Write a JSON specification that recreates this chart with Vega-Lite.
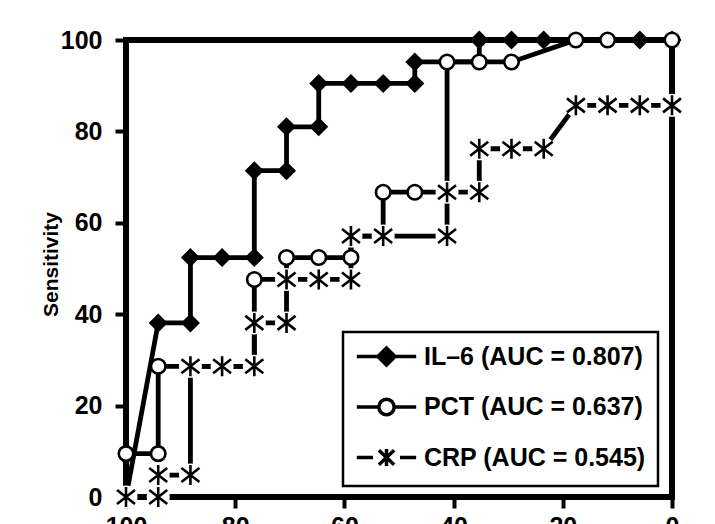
{
  "$schema": "https://vega.github.io/schema/vega-lite/v6.json",
  "autosize": {"type": "none"},
  "padding": {"left": 126, "top": 40, "right": 43, "bottom": 27},
  "width": 546,
  "height": 457,
  "background": "white",
  "config": {
    "view": {"stroke": "black", "strokeWidth": 6},
    "font": "Liberation Sans",
    "axis": {
      "domain": false,
      "grid": false,
      "ticks": true,
      "tickColor": "black",
      "tickWidth": 4,
      "tickSize": 11,
      "labelFont": "Liberation Sans",
      "labelFontWeight": "bold",
      "labelFontSize": 25,
      "labelColor": "black"
    }
  },
  "data": {
    "values": [
      {"series": "IL–6 (AUC = 0.807)", "i": 1, "specificity": 100, "sensitivity": 0},
      {"series": "IL–6 (AUC = 0.807)", "i": 2, "specificity": 94.1, "sensitivity": 38.1},
      {"series": "IL–6 (AUC = 0.807)", "i": 3, "specificity": 88.2, "sensitivity": 38.1},
      {"series": "IL–6 (AUC = 0.807)", "i": 4, "specificity": 88.2, "sensitivity": 52.4},
      {"series": "IL–6 (AUC = 0.807)", "i": 5, "specificity": 82.4, "sensitivity": 52.4},
      {"series": "IL–6 (AUC = 0.807)", "i": 6, "specificity": 76.5, "sensitivity": 52.4},
      {"series": "IL–6 (AUC = 0.807)", "i": 7, "specificity": 76.5, "sensitivity": 71.4},
      {"series": "IL–6 (AUC = 0.807)", "i": 8, "specificity": 70.6, "sensitivity": 71.4},
      {"series": "IL–6 (AUC = 0.807)", "i": 9, "specificity": 70.6, "sensitivity": 81.0},
      {"series": "IL–6 (AUC = 0.807)", "i": 10, "specificity": 64.7, "sensitivity": 81.0},
      {"series": "IL–6 (AUC = 0.807)", "i": 11, "specificity": 64.7, "sensitivity": 90.5},
      {"series": "IL–6 (AUC = 0.807)", "i": 12, "specificity": 58.8, "sensitivity": 90.5},
      {"series": "IL–6 (AUC = 0.807)", "i": 13, "specificity": 52.9, "sensitivity": 90.5},
      {"series": "IL–6 (AUC = 0.807)", "i": 14, "specificity": 47.1, "sensitivity": 90.5},
      {"series": "IL–6 (AUC = 0.807)", "i": 15, "specificity": 47.1, "sensitivity": 95.2},
      {"series": "IL–6 (AUC = 0.807)", "i": 16, "specificity": 35.3, "sensitivity": 95.2, "corner": true},
      {"series": "IL–6 (AUC = 0.807)", "i": 17, "specificity": 35.3, "sensitivity": 100},
      {"series": "IL–6 (AUC = 0.807)", "i": 18, "specificity": 29.4, "sensitivity": 100},
      {"series": "IL–6 (AUC = 0.807)", "i": 19, "specificity": 23.5, "sensitivity": 100},
      {"series": "IL–6 (AUC = 0.807)", "i": 20, "specificity": 5.9, "sensitivity": 100},
      {"series": "IL–6 (AUC = 0.807)", "i": 21, "specificity": 0, "sensitivity": 100},
      {"series": "PCT (AUC = 0.637)", "i": 1, "specificity": 100, "sensitivity": 9.5},
      {"series": "PCT (AUC = 0.637)", "i": 2, "specificity": 94.1, "sensitivity": 9.5},
      {"series": "PCT (AUC = 0.637)", "i": 3, "specificity": 94.1, "sensitivity": 28.6},
      {"series": "PCT (AUC = 0.637)", "i": 4, "specificity": 76.5, "sensitivity": 28.6},
      {"series": "PCT (AUC = 0.637)", "i": 5, "specificity": 76.5, "sensitivity": 47.6},
      {"series": "PCT (AUC = 0.637)", "i": 6, "specificity": 70.6, "sensitivity": 47.6},
      {"series": "PCT (AUC = 0.637)", "i": 7, "specificity": 70.6, "sensitivity": 52.4},
      {"series": "PCT (AUC = 0.637)", "i": 8, "specificity": 64.7, "sensitivity": 52.4},
      {"series": "PCT (AUC = 0.637)", "i": 9, "specificity": 58.8, "sensitivity": 52.4},
      {"series": "PCT (AUC = 0.637)", "i": 10, "specificity": 58.8, "sensitivity": 57.1},
      {"series": "PCT (AUC = 0.637)", "i": 11, "specificity": 52.9, "sensitivity": 57.1},
      {"series": "PCT (AUC = 0.637)", "i": 12, "specificity": 52.9, "sensitivity": 66.7},
      {"series": "PCT (AUC = 0.637)", "i": 13, "specificity": 47.1, "sensitivity": 66.7},
      {"series": "PCT (AUC = 0.637)", "i": 14, "specificity": 41.2, "sensitivity": 66.7},
      {"series": "PCT (AUC = 0.637)", "i": 15, "specificity": 41.2, "sensitivity": 95.2},
      {"series": "PCT (AUC = 0.637)", "i": 16, "specificity": 35.3, "sensitivity": 95.2},
      {"series": "PCT (AUC = 0.637)", "i": 17, "specificity": 29.4, "sensitivity": 95.2},
      {"series": "PCT (AUC = 0.637)", "i": 18, "specificity": 17.6, "sensitivity": 100},
      {"series": "PCT (AUC = 0.637)", "i": 19, "specificity": 11.8, "sensitivity": 100},
      {"series": "PCT (AUC = 0.637)", "i": 20, "specificity": 0, "sensitivity": 100},
      {"series": "CRP (AUC = 0.545)", "i": 1, "specificity": 100, "sensitivity": 0},
      {"series": "CRP (AUC = 0.545)", "i": 2, "specificity": 94.1, "sensitivity": 0},
      {"series": "CRP (AUC = 0.545)", "i": 3, "specificity": 94.1, "sensitivity": 4.8},
      {"series": "CRP (AUC = 0.545)", "i": 4, "specificity": 88.2, "sensitivity": 4.8},
      {"series": "CRP (AUC = 0.545)", "i": 5, "specificity": 88.2, "sensitivity": 28.6},
      {"series": "CRP (AUC = 0.545)", "i": 6, "specificity": 82.4, "sensitivity": 28.6},
      {"series": "CRP (AUC = 0.545)", "i": 7, "specificity": 76.5, "sensitivity": 28.6},
      {"series": "CRP (AUC = 0.545)", "i": 8, "specificity": 76.5, "sensitivity": 38.1},
      {"series": "CRP (AUC = 0.545)", "i": 9, "specificity": 70.6, "sensitivity": 38.1},
      {"series": "CRP (AUC = 0.545)", "i": 10, "specificity": 70.6, "sensitivity": 47.6},
      {"series": "CRP (AUC = 0.545)", "i": 11, "specificity": 64.7, "sensitivity": 47.6},
      {"series": "CRP (AUC = 0.545)", "i": 12, "specificity": 58.8, "sensitivity": 47.6},
      {"series": "CRP (AUC = 0.545)", "i": 13, "specificity": 58.8, "sensitivity": 57.1},
      {"series": "CRP (AUC = 0.545)", "i": 14, "specificity": 52.9, "sensitivity": 57.1},
      {"series": "CRP (AUC = 0.545)", "i": 15, "specificity": 41.2, "sensitivity": 57.1},
      {"series": "CRP (AUC = 0.545)", "i": 16, "specificity": 41.2, "sensitivity": 66.7},
      {"series": "CRP (AUC = 0.545)", "i": 17, "specificity": 35.3, "sensitivity": 66.7},
      {"series": "CRP (AUC = 0.545)", "i": 18, "specificity": 35.3, "sensitivity": 76.2},
      {"series": "CRP (AUC = 0.545)", "i": 19, "specificity": 29.4, "sensitivity": 76.2},
      {"series": "CRP (AUC = 0.545)", "i": 20, "specificity": 23.5, "sensitivity": 76.2},
      {"series": "CRP (AUC = 0.545)", "i": 21, "specificity": 17.6, "sensitivity": 85.7},
      {"series": "CRP (AUC = 0.545)", "i": 22, "specificity": 11.8, "sensitivity": 85.7},
      {"series": "CRP (AUC = 0.545)", "i": 23, "specificity": 5.9, "sensitivity": 85.7},
      {"series": "CRP (AUC = 0.545)", "i": 24, "specificity": 0, "sensitivity": 85.7}
    ]
  },
  "encoding": {
    "x": {
      "field": "specificity",
      "type": "quantitative",
      "scale": {"domain": [0, 100], "reverse": true, "nice": false, "zero": false},
      "axis": {"title": null, "values": [0, 20, 40, 60, 80, 100], "labelPadding": 6, "labelFlush": false, "labelOverlap": false}
    },
    "y": {
      "field": "sensitivity",
      "type": "quantitative",
      "scale": {"domain": [0, 100], "nice": false},
      "axis": {
        "title": "Sensitivity",
        "values": [0, 20, 40, 60, 80, 100],
        "labelPadding": 13,
        "labelFlush": false,
        "labelOverlap": false,
        "titleFont": "Liberation Sans",
        "titleFontSize": 21,
        "titleFontWeight": "bold",
        "titleColor": "black",
        "titleX": -69,
        "titleY": 224,
        "titleBaseline": "alphabetic",
        "titleAlign": "center",
        "titleAngle": -90
      }
    }
  },
  "layer": [
    {
      "mark": {"type": "line", "strokeWidth": 4.8, "strokeJoin": "miter"},
      "encoding": {
        "color": {
          "field": "series",
          "type": "nominal",
          "scale": {"domain": ["IL–6 (AUC = 0.807)", "PCT (AUC = 0.637)", "CRP (AUC = 0.545)"], "range": ["black", "black", "black"]},
          "legend": {
            "title": null,
            "orient": "none",
            "legendX": 217,
            "legendY": 292,
            "direction": "vertical",
            "strokeColor": "black",
            "fillColor": "white",
            "padding": 12,
            "rowPadding": 18.5,
            "symbolSize": 324,
            "symbolStrokeWidth": 3.5,
            "symbolOffset": 19,
            "labelOffset": 25,
            "labelFont": "Liberation Sans",
            "labelFontSize": 25,
            "labelFontWeight": "bold",
            "labelColor": "black",
            "labelLimit": 400,
            "encode": {
              "legend": {"update": {"strokeWidth": {"value": 2.5}}},
              "symbols": {
                "update": {
                  "shape": {"signal": "datum.index === 0 ? 'M-3.3,0L3.3,0M0,-0.95L0.95,0L0,0.95L-0.95,0Z' : datum.index === 1 ? 'M-3.3,0L-0.85,0M0.85,0L3.3,0M-0.85,0A0.85,0.85,0,1,1,0.85,0A0.85,0.85,0,1,1,-0.85,0Z' : 'M-3.3,0L-1.5,0M1.5,0L3.3,0M0,-0.95L0,0.95M-0.85,-0.8L0.85,0.8M-0.85,0.8L0.85,-0.8'"},
                  "fill": {"signal": "datum.index === 0 ? 'black' : 'white'"},
                  "stroke": {"value": "black"},
                  "strokeWidth": {"value": 3.5},
                  "size": {"value": 324},
                  "opacity": {"value": 1}
                }
              }
            }
          }
        },
        "order": {"field": "i", "type": "quantitative"}
      }
    },
    {
      "transform": [{"filter": "datum.series === 'IL–6 (AUC = 0.807)' && !datum.corner"}],
      "mark": {"type": "point", "shape": "diamond", "size": 361, "filled": true, "fill": "black", "strokeWidth": 0, "opacity": 1}
    },
    {
      "transform": [{"filter": "datum.series === 'PCT (AUC = 0.637)'"}],
      "mark": {"type": "point", "shape": "circle", "size": 210, "filled": true, "fill": "white", "stroke": "black", "strokeWidth": 2.6, "opacity": 1}
    },
    {
      "transform": [{"filter": "datum.series === 'CRP (AUC = 0.545)'"}],
      "mark": {"type": "point", "shape": "circle", "size": 529, "filled": true, "fill": "white", "strokeWidth": 0, "opacity": 1}
    },
    {
      "transform": [{"filter": "datum.series === 'CRP (AUC = 0.545)'"}],
      "mark": {"type": "point", "shape": "M0,-1L0,1M-0.9,-0.7L0.9,0.7M-0.9,0.7L0.9,-0.7", "size": 400, "filled": false, "stroke": "black", "strokeWidth": 2.6, "opacity": 1}
    }
  ]
}
